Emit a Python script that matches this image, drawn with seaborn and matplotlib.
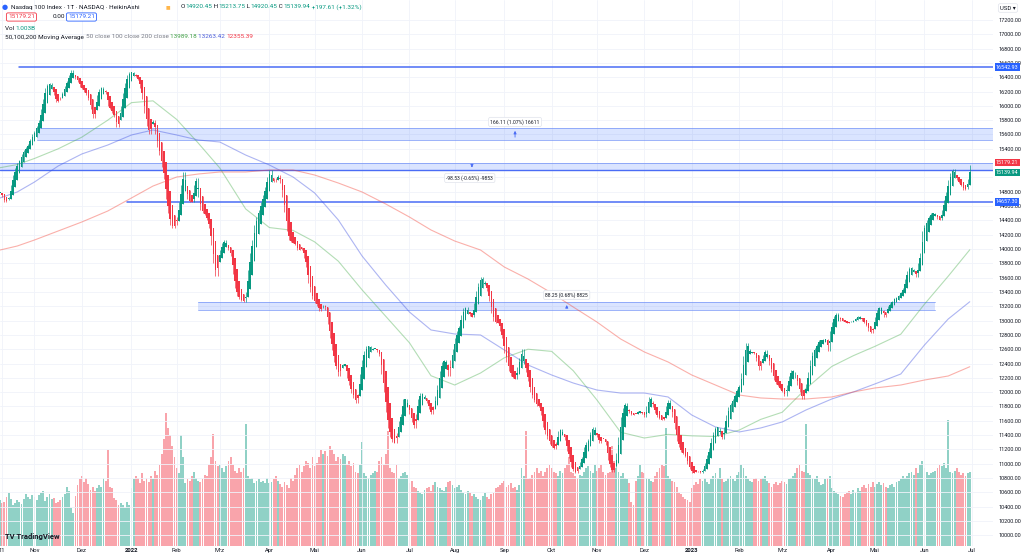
import numpy as np
import pandas as pd
import seaborn as sns
import matplotlib.pyplot as plt
from matplotlib.transforms import blended_transform_factory

closes_2021_10 = [14780, 14720, 14660, 14690, 14720, 14900, 15030, 15130, 15200, 15250, 15330, 15380, 15420, 15470, 15540, 15600]
closes_2021_11 = [15650, 15720, 15800, 15950, 16100, 16250, 16300, 16320, 16250, 16150, 16050, 16080, 16130, 16200, 16280, 16350,
                  16430, 16500, 16420, 16380, 16330, 16270]
closes_2021_12 = [16230, 16200, 16150, 16080, 15950, 15830, 15950, 16150, 16230, 16260, 16220, 16170, 16000, 15950, 15900, 15850,
                  15700, 15800, 16000, 16180, 16320, 16430, 16470]
closes_2022_01 = [16480, 16440, 16400, 16360, 16250, 16100, 15900, 15720, 15600, 15750, 15800, 15600, 15430, 15320, 15150, 14980,
                  14700, 14500, 14340, 14300, 14330]
closes_2022_02 = [14450, 14650, 14900, 15070, 14850, 14700, 14650, 14660, 14900, 14990, 14720, 14550, 14500, 14480, 14400, 14300,
                  14050, 13800, 13620, 13850]
closes_2022_03 = [13980, 14080, 14120, 14050, 13980, 13900, 13650, 13450, 13350, 13300, 13280, 13260, 13400, 13700, 13950, 14130,
                  14330, 14450, 14545, 14650, 14760, 14866, 15000]
closes_2022_04 = [15100, 14980, 14930, 14990, 15030, 14920, 14720, 14520, 14250, 14120, 14100, 14080, 14050, 13990, 13990, 14020,
                  13880, 13750, 13530, 13400, 13300]
closes_2022_05 = [13250, 13200, 13140, 13180, 13220, 13150, 12950, 12750, 12590, 12420, 12320, 12230, 12350, 12400, 12380, 12200,
                  12100, 11990, 11920, 11850, 11980, 12250]
closes_2022_06 = [12450, 12580, 12640, 12640, 12620, 12600, 12610, 12560, 12500, 12250, 12000, 11720, 11500, 11380, 11300, 11290,
                  11430, 11600, 11700, 11900, 11900, 11800]
closes_2022_07 = [11700, 11580, 11500, 11700, 11900, 11990, 11960, 11900, 11850, 11760, 11700, 11800, 11950, 12100, 12300, 12420,
                  12450, 12400, 12220, 12450, 12600]
closes_2022_08 = [12760, 12850, 12930, 13080, 13170, 13190, 13120, 13060, 13050, 13250, 13420, 13520, 13610, 13550, 13500, 13420,
                  13280, 13110, 13000, 12960, 12980, 12860, 12750]
closes_2022_09 = [12550, 12420, 12300, 12230, 12200, 12180, 12350, 12480, 12600, 12400, 12280, 12150, 12000, 11920, 11860, 11810,
                  11790, 11680, 11520, 11420, 11350, 11280]
closes_2022_10 = [11230, 11200, 11300, 11460, 11480, 11420, 11330, 11180, 11080, 10960, 10900, 10870, 10930, 11020, 11100, 11230,
                  11300, 11340, 11450, 11510, 11430]
closes_2022_11 = [11370, 11290, 11350, 11340, 11260, 11050, 10950, 10880, 10950, 11150, 11380, 11650, 11780, 11850, 11760, 11710,
                  11680, 11690, 11700, 11740, 11730, 11700]
closes_2022_12 = [11660, 11800, 11930, 11880, 11790, 11710, 11650, 11620, 11610, 11650, 11800, 11890, 11800, 11650, 11480, 11320,
                  11230, 11160, 11130, 11090, 10990, 10920]
closes_2023_01 = [10870, 10880, 10900, 10890, 10870, 10930, 11010, 11120, 11220, 11360, 11450, 11520, 11500, 11420, 11340, 11520,
                  11680, 11790, 11850, 11900, 11980, 12040]
closes_2023_02 = [12100, 12270, 12500, 12690, 12600, 12550, 12560, 12530, 12430, 12310, 12420, 12520, 12590, 12480, 12380, 12280,
                  12170, 12110, 12080, 12040]
closes_2023_03 = [12000, 11940, 12100, 12220, 12310, 12280, 12200, 12100, 12000, 11900, 11990, 12110, 12280, 12450, 12560, 12620,
                  12680, 12730, 12720, 12740, 12740, 12580, 12850]
closes_2023_04 = [12980, 13060, 13110, 13050, 13000, 12990, 12980, 12960, 12980, 12990, 13010, 13040, 13060, 13040, 13000, 12960,
                  12920, 12860, 12830, 12900]
closes_2023_05 = [13050, 13150, 13190, 13150, 13050, 13120, 13200, 13240, 13280, 13310, 13330, 13360, 13400, 13450, 13580, 13690,
                  13750, 13720, 13680, 13610, 13800, 13950, 14250]
closes_2023_06 = [14340, 14400, 14460, 14500, 14510, 14480, 14420, 14400, 14550, 14680, 14800, 14960, 15060, 15120, 15020, 14960,
                  14920, 14880, 14830, 14840, 14980, 15179.21]

# Volumen in Mrd.
volume_2021_10 = [0.62, 0.58, 0.60, 0.66, 0.71, 0.64, 0.55, 0.58, 0.62, 0.60, 0.57, 0.63, 0.70, 0.66, 0.64, 0.69]
volume_2021_11 = [0.66, 0.62, 0.69, 0.72, 0.75, 0.61, 0.66, 0.70, 0.63, 0.65, 0.58, 0.60, 0.62, 0.66, 0.70, 0.80, 0.74, 0.52,
                  0.45, 0.68, 0.82, 0.90]
volume_2021_12 = [0.95, 0.86, 0.92, 0.84, 0.76, 0.80, 0.74, 0.78, 0.82, 0.80, 0.92, 0.88, 1.30, 0.80, 0.78, 0.65, 0.62, 0.55,
                  0.58, 0.55, 0.52, 0.60, 0.56]
volume_2022_01 = [0.78, 0.90, 0.95, 0.92, 0.85, 0.98, 0.88, 0.92, 0.86, 0.95, 0.90, 1.02, 0.96, 1.10, 1.25, 1.45, 1.80, 1.60,
                  1.50, 1.35, 1.20]
volume_2022_02 = [1.05, 0.98, 1.50, 1.20, 0.85, 0.90, 0.88, 0.95, 1.00, 0.92, 0.88, 0.86, 0.90, 0.96, 0.94, 1.10, 1.20, 1.52,
                  1.15, 1.08]
volume_2022_03 = [1.10, 1.05, 1.00, 1.08, 1.15, 1.20, 1.10, 1.02, 0.98, 1.05, 1.00, 1.06, 1.65, 0.95, 0.90, 0.92, 0.85, 0.88,
                  0.90, 0.86, 0.88, 0.85, 0.92]
volume_2022_04 = [0.85, 0.86, 0.90, 0.95, 0.88, 0.84, 0.80, 0.86, 0.82, 0.78, 0.92, 0.88, 0.96, 1.05, 1.10, 1.00, 1.08, 1.15,
                  1.12, 1.05, 1.20]
volume_2022_05 = [1.08, 1.12, 1.20, 1.30, 1.25, 1.28, 1.22, 1.35, 1.30, 1.25, 1.15, 1.20, 1.18, 1.25, 1.22, 1.10, 1.15, 1.08,
                  1.12, 1.00, 0.98, 1.10]
volume_2022_06 = [1.40, 0.98, 0.95, 0.92, 0.96, 0.98, 1.02, 1.00, 1.15, 1.20, 1.10, 1.25, 1.55, 1.05, 1.00, 0.98, 1.10, 0.92,
                  0.95, 0.98, 1.00, 0.96]
volume_2022_07 = [0.85, 0.88, 0.80, 0.78, 0.75, 0.72, 0.70, 0.76, 0.78, 0.80, 0.74, 0.82, 0.86, 0.80, 0.78, 0.76, 0.74, 0.80,
                  0.86, 0.88, 0.82]
volume_2022_08 = [0.78, 0.80, 0.82, 0.76, 0.72, 0.70, 0.74, 0.72, 0.68, 0.70, 0.66, 0.64, 0.62, 0.68, 0.72, 0.66, 0.64, 0.70,
                  0.72, 0.78, 0.80, 0.82, 0.85]
volume_2022_09 = [0.88, 0.80, 0.82, 0.85, 0.78, 0.80, 0.76, 0.82, 1.05, 0.95, 1.55, 0.90, 0.92, 0.96, 1.00, 1.05, 0.98, 1.02,
                  0.95, 1.00, 1.06, 1.10]
volume_2022_10 = [1.05, 1.00, 0.98, 0.95, 1.02, 0.98, 1.05, 1.10, 1.20, 1.00, 0.98, 0.95, 0.92, 0.96, 0.94, 1.00, 1.05, 1.08,
                  1.02, 0.98, 1.10]
volume_2022_11 = [1.02, 1.05, 1.10, 1.00, 0.96, 0.98, 1.00, 1.35, 1.15, 1.05, 1.00, 0.95, 0.98, 0.92, 0.90, 0.85, 0.60, 0.55,
                  0.88, 0.95, 1.10, 1.00]
volume_2022_12 = [0.98, 0.92, 0.90, 0.88, 0.86, 0.95, 1.00, 1.05, 1.10, 1.08, 1.60, 0.95, 0.90, 0.88, 0.86, 0.80, 0.72, 0.70,
                  0.66, 0.64, 0.62, 0.60]
volume_2023_01 = [0.78, 0.82, 0.86, 0.84, 0.90, 0.88, 0.92, 0.86, 0.84, 0.90, 0.95, 0.98, 0.92, 1.05, 0.90, 0.86, 0.88, 0.92,
                  0.95, 0.90, 0.88, 0.96]
volume_2023_02 = [1.00, 1.10, 1.05, 0.95, 0.90, 0.88, 0.86, 0.90, 0.92, 0.88, 0.90, 0.92, 0.95, 0.88, 0.85, 0.80, 0.84, 0.86,
                  0.82, 0.85]
volume_2023_03 = [0.88, 0.86, 0.84, 0.90, 0.92, 0.95, 0.98, 1.05, 1.10, 1.02, 1.00, 1.65, 0.98, 0.96, 0.92, 0.90, 0.94, 0.86,
                  0.82, 0.84, 0.90, 0.92, 0.95]
volume_2023_04 = [0.78, 0.75, 0.72, 0.70, 0.68, 0.66, 0.70, 0.72, 0.74, 0.70, 0.76, 0.72, 0.78, 0.75, 0.80, 0.82, 0.78, 0.84,
                  0.80, 0.86]
volume_2023_05 = [0.80, 0.84, 0.86, 0.82, 0.85, 0.80, 0.78, 0.82, 0.84, 0.80, 0.86, 0.88, 0.90, 0.94, 0.92, 0.95, 0.98, 1.00,
                  0.96, 1.05, 0.98, 1.10, 1.15]
volume_2023_06 = [1.05, 1.00, 0.96, 0.98, 1.00, 1.02, 1.05, 1.10, 1.08, 1.12, 1.05, 1.70, 1.00, 0.98, 1.02, 1.05, 1.00, 0.96,
                  0.98, 0.95, 0.98, 1.003]

# gleitende Durchschnitte
ma_dates = ['2021-10-08', '2021-10-20', '2021-11-01', '2021-11-16', '2021-12-01', '2021-12-17', '2022-01-03', '2022-01-17',
            '2022-02-01', '2022-02-15', '2022-03-01', '2022-03-17', '2022-04-01', '2022-04-18', '2022-05-02', '2022-05-17',
            '2022-06-01', '2022-06-16', '2022-07-01', '2022-07-15', '2022-08-01', '2022-08-17', '2022-09-01', '2022-09-16',
            '2022-10-03', '2022-10-17', '2022-11-01', '2022-11-16', '2022-12-01', '2022-12-16', '2023-01-02', '2023-01-17',
            '2023-02-01', '2023-02-15', '2023-03-01', '2023-03-16', '2023-04-03', '2023-04-17', '2023-05-01', '2023-05-17',
            '2023-06-01', '2023-06-16', '2023-06-30']
ma50 = [15136, 15180, 15265, 15400, 15563, 15800, 16045, 16070, 15810, 15480, 15132, 14560, 14300, 14260, 14100, 13830,
        13430, 13060, 12690, 12230, 12100, 12268, 12480, 12600, 12570, 12300, 11891, 11440, 11360, 11410, 11390, 11380,
        11470, 11620, 11720, 12050, 12360, 12510, 12640, 12810, 13230, 13620, 13989.18]
ma100 = [14713, 14797, 14936, 15160, 15328, 15453, 15593, 15663, 15593, 15523, 15495, 15313, 15174, 15006, 14783, 14406,
         13903, 13497, 13120, 12869, 12813, 12799, 12590, 12380, 12240, 12128, 12030, 11988, 11988, 11933, 11681, 11514,
         11444, 11500, 11584, 11751, 11905, 12003, 12115, 12254, 12659, 13022, 13263.42]
ma200 = [13986, 14042, 14126, 14252, 14378, 14531, 14713, 14880, 15006, 15048, 15076, 15076, 15104, 15104, 15034, 14922,
         14797, 14629, 14447, 14266, 14112, 13986, 13749, 13581, 13385, 13190, 12980, 12743, 12562, 12422, 12240, 12100,
         11960, 11919, 11905, 11905, 11933, 12003, 12059, 12100, 12170, 12226, 12355.39]

# Zeichnungen (Preisniveaus)
level_top = 16542.93
level_bottom = 14657.30
zone_upper = (15524.0, 15690.11)
zone_mid = (15101.47, 15200.0)
zone_low = (13148.0, 13256.0)

tick_dates = ['2021-10-11', '2021-11-01', '2021-12-01', '2022-01-03', '2022-02-01', '2022-03-01', '2022-04-01', '2022-05-02',
              '2022-06-01', '2022-07-01', '2022-08-01', '2022-09-01', '2022-10-03', '2022-11-01', '2022-12-01', '2023-01-02',
              '2023-02-01', '2023-03-01', '2023-04-03', '2023-05-01', '2023-06-01', '2023-07-03']
tick_labels = ['11', 'Nov', 'Dez', '2022', 'Feb', 'Mrz', 'Apr', 'Mai', 'Jun', 'Jul', 'Aug', 'Sep', 'Okt', 'Nov', 'Dez', '2023',
               'Feb', 'Mrz', 'Apr', 'Mai', 'Jun', 'Jul']

closes = sum([closes_2021_10, closes_2021_11, closes_2021_12, closes_2022_01, closes_2022_02, closes_2022_03,
              closes_2022_04, closes_2022_05, closes_2022_06, closes_2022_07, closes_2022_08, closes_2022_09,
              closes_2022_10, closes_2022_11, closes_2022_12, closes_2023_01, closes_2023_02, closes_2023_03,
              closes_2023_04, closes_2023_05, closes_2023_06], [])
volumes = sum([volume_2021_10, volume_2021_11, volume_2021_12, volume_2022_01, volume_2022_02, volume_2022_03,
               volume_2022_04, volume_2022_05, volume_2022_06, volume_2022_07, volume_2022_08, volume_2022_09,
               volume_2022_10, volume_2022_11, volume_2022_12, volume_2023_01, volume_2023_02, volume_2023_03,
               volume_2023_04, volume_2023_05, volume_2023_06], [])

dates = pd.bdate_range('2021-10-08', '2023-07-10')
n = len(closes)


def pos(d):
    return int(dates.get_indexer([pd.Timestamp(d)])[0])


# --- Heikin Ashi ---
c = np.array(closes, float)
o = np.r_[c[0], c[:-1]]
h = np.maximum(o, c)
l = np.minimum(o, c)
ha_c = (o + h + l + c) / 4
ha_o = np.empty_like(c)
ha_o[0] = (o[0] + c[0]) / 2
for i in range(1, n):
    ha_o[i] = (ha_o[i - 1] + ha_c[i - 1]) / 2
ha_h = np.maximum.reduce([h, ha_o, ha_c])
ha_l = np.minimum.reduce([l, ha_o, ha_c])

UP, DOWN = '#089981', '#f23645'
DARK, GREY = '#131722', '#787b86'
BLUE = '#2962ff'

sns.set_theme(style="white")
plt.rcParams['font.family'] = ['Roboto', 'DejaVu Sans']

W, H = 1024, 558
fig = plt.figure(figsize=(W / 100, H / 100), dpi=100)
rect = [0, 12 / H, 993 / W, 546 / H]
vax = fig.add_axes(rect)
ax = fig.add_axes(rect, facecolor='none')

x = np.arange(n)
up = ha_c >= ha_o
cols = np.where(up, UP, DOWN)

# Volumen
vcols = np.where(up, '#90d1c6', '#f9a4ab')
vax.bar(x, volumes, width=0.85, color=vcols, linewidth=0)
vax.set_ylim(0, 546 / 74)
vax.set_xlim(0, 993 / 2.155)
vax.set_xticks([]); vax.set_yticks([])
for s in vax.spines.values():
    s.set_visible(False)

# Kerzen
ax.vlines(x, ha_l, ha_h, colors=cols, lw=0.5, zorder=3)
body_lo = np.minimum(ha_o, ha_c)
body_h = np.maximum(np.abs(ha_c - ha_o), 10)
ax.bar(x, body_h, bottom=body_lo, width=0.72, color=cols, linewidth=0, zorder=3)

# gleitende Durchschnitte
ma_pos = [pos(d) for d in ma_dates]
ma_df = pd.DataFrame({'pos': ma_pos * 3, 'value': ma50 + ma100 + ma200,
                      'line': ['50'] * len(ma_pos) + ['100'] * len(ma_pos) + ['200'] * len(ma_pos)})
sns.lineplot(data=ma_df, x='pos', y='value', hue='line', palette={'50': '#4caf50', '100': '#3d4fe0', '200': '#f44336'},
             ax=ax, lw=0.8, alpha=0.42, legend=False, zorder=2)

xmax = 993 / 2.155
ax.set_xlim(0, xmax)
ax.set_ylim(9851, 17479)


# Zonen und Linien
def frac(d):
    return pos(d) / xmax


zone_col, edge_col = '#2962ff', '#6f8ff7'
zones = [(zone_upper, frac('2021-11-02'), 1), (zone_mid, 0, 1), (zone_low, frac('2022-02-15'), frac('2023-06-08'))]
for (lo, hi), a, b in zones:
    ax.axhspan(lo, hi, xmin=a, xmax=b, fc=zone_col, alpha=0.17, ec='none', zorder=1)
    ax.axhline(lo, a, b, color=edge_col, lw=0.6, alpha=0.8, zorder=1)
    ax.axhline(hi, a, b, color=edge_col, lw=0.6, alpha=0.8, zorder=1)
ax.axhline(zone_mid[0], 0, 1, color='#4a6cf5', lw=1.0, zorder=1)
ax.axhline(level_top, frac('2021-10-21'), 1, color='#4a6cf5', lw=1.1, zorder=1)
ax.axhline(level_bottom, frac('2021-12-30'), 1, color='#4a6cf5', lw=1.1, zorder=1)

# Messwerkzeuge
box = dict(boxstyle='round,pad=0.35', fc='white', ec='#e0e3eb', lw=0.5)
arrow = dict(arrowstyle='-|>', color='#4a6cf5', lw=0.6, mutation_scale=4)
ax.annotate('', xy=(pos('2022-09-08'), zone_upper[1]), xytext=(pos('2022-09-08'), zone_upper[0]), arrowprops=arrow)
ax.text(pos('2022-09-08'), 15775, '166.11 (1.07%) 16611', fontsize=3.6, color=DARK, ha='center', va='center', bbox=box)
ax.annotate('', xy=(pos('2022-08-11'), zone_mid[0]), xytext=(pos('2022-08-11'), zone_mid[1]), arrowprops=arrow)
ax.text(pos('2022-08-10'), 14992, '-98.53 (-0.65%) -9853', fontsize=3.6, color=DARK, ha='center', va='center', bbox=box)
ax.annotate('', xy=(pos('2022-10-12'), zone_low[1]), xytext=(pos('2022-10-12'), zone_low[0]), arrowprops=arrow)
ax.text(pos('2022-10-12'), 13358, '88.25 (0.68%) 8825', fontsize=3.6, color=DARK, ha='center', va='center', bbox=box)

# Achsen
price_ticks = np.arange(10000, 17400, 200)
ax.yaxis.tick_right()
ax.set_yticks(price_ticks)
ax.set_yticklabels([f'{v:.2f}' for v in price_ticks])
ax.set_xticks([pos(d) for d in tick_dates])
ax.set_xticklabels(tick_labels)
ax.tick_params(axis='y', labelsize=4, pad=4, length=0, colors=DARK)
ax.tick_params(axis='x', labelsize=4.2, pad=1.5, length=0, colors=DARK)
for t in ax.get_xticklabels():
    if t.get_text() in ('2022', '2023'):
        t.set_fontweight('bold')
ax.grid(True, color='#f0f3fa', lw=0.6)
ax.set_axisbelow(True)
ax.set_xlabel(''); ax.set_ylabel('')
for s in ax.spines.values():
    s.set_visible(False)

# Preisschilder an der Achse (verdecken die Skalenbeschriftung darunter)
tr = blended_transform_factory(ax.transAxes, ax.transData)
for val, fc, txt in [(level_top, BLUE, '16542.93'), (15206, DOWN, '15179.21'),
                     (15066, UP, '15139.94'), (level_bottom, BLUE, '14657.30')]:
    ax.text(1.003, val, txt, transform=tr, fontsize=3.9, color='white', ha='left', va='center', clip_on=False,
            zorder=10, bbox=dict(boxstyle='square,pad=0.2', fc=fc, ec='none'))
for t in ax.get_yticklabels():
    if t.get_text() in ('15200.00', '15000.00'):
        t.set_visible(False)

# Kopfzeile
renderer = fig.canvas.get_renderer()


def line(x0, y0, parts, size=4.6):
    xx = x0
    for txt, col in parts:
        t = fig.text(xx / W, 1 - y0 / H, txt, color=col, fontsize=size, va='center', ha='left')
        xx += t.get_window_extent(renderer).width
    return xx


fig.text(5 / W, 1 - 7 / H, '●', color=BLUE, fontsize=5, va='center', ha='center')
line(11, 7, [('Nasdaq 100 Index · 1T · NASDAQ · HeikinAshi', DARK)])
fig.text(168 / W, 1 - 7 / H, '■', color='#ff9800', fontsize=3.5, va='center', ha='center', alpha=0.7)
line(181, 7, [('O', DARK), ('14920.45', UP), (' H', DARK), ('15213.75', UP), (' L', DARK), ('14920.45', UP),
              (' C', DARK), ('15139.94', UP), (' +197.61 (+1.32%)', UP)])
fig.text(8 / W, 1 - 17 / H, '15179.21', color=DOWN, fontsize=4.6, va='center', ha='left',
         bbox=dict(boxstyle='round,pad=0.25', fc='white', ec=DOWN, lw=0.6))
fig.text(53 / W, 1 - 17 / H, '0.00', color=DARK, fontsize=4.6, va='center', ha='left')
fig.text(68 / W, 1 - 17 / H, '15179.21', color=BLUE, fontsize=4.6, va='center', ha='left',
         bbox=dict(boxstyle='round,pad=0.25', fc='white', ec=BLUE, lw=0.6))
line(5, 28, [('Vol ', DARK), ('1.003B', UP)])
line(5, 37, [('50,100,200 Moving Average ', DARK), ('50 close 100 close 200 close ', GREY),
             ('13989.18 ', '#43a047'), ('13263.42 ', '#4c5ed8'), ('12355.39', DOWN)])

fig.text(1008 / W, 1 - 8 / H, 'USD ▾', color=DARK, fontsize=4.3, va='center', ha='center',
         bbox=dict(boxstyle='round,pad=0.3', fc='white', ec='#e0e3eb', lw=0.5))
fig.text(5 / W, 1 - 537 / H, 'TV TradingView', color=DARK, fontsize=5.5, fontweight='bold', va='center', ha='left')

fig.savefig('out.png', dpi=100)
